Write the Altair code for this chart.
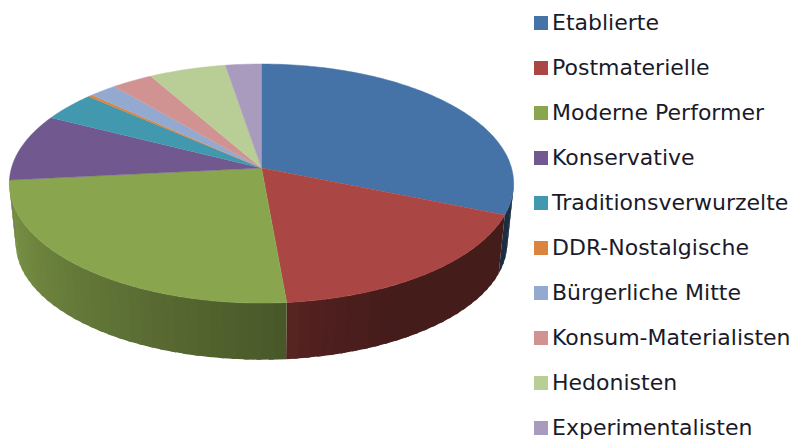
import numpy as np
import pandas as pd
import altair as alt

names = ["Etablierte", "Postmaterielle", "Moderne Performer", "Konservative",
         "Traditionsverwurzelte", "DDR-Nostalgische", "Bürgerliche Mitte",
         "Konsum-Materialisten", "Hedonisten", "Experimentalisten"]
shares = [31.2, 17.4, 24.8, 9.1, 4.0, 0.3, 2.0, 3.0, 5.6, 2.6]
colors = ["#4572A7", "#AA4643", "#89A54E", "#71588F", "#4198AF",
          "#DB843D", "#93A9CF", "#D19392", "#B9CD96", "#A99BBD"]

# Side shading: (angle clockwise from top, brightness)
shade_angles = [97, 150, 170, 175, 264]
shade_levels = [0.40, 0.40, 0.47, 0.53, 0.92]


def rim(theta_deg, top=True):
    t = np.radians(theta_deg)
    X, Z = np.sin(t), np.cos(t)
    k = 0.13
    a, b, y0 = (250.0, 117.5, 168.0) if top else (243.7, 114.6, 228.0)
    w = 1 + k * Z
    return 261.5 + a * X / w, y0 - b * Z / w


def darker(hex_col, f):
    rgb = [int(hex_col[i:i + 2], 16) for i in (1, 3, 5)]
    return "#" + "".join(f"{min(255, int(c * f)):02x}" for c in rgb)


total = sum(shares)
edges = np.concatenate([[0], np.cumsum(shares) / total * 360])

top_rows, side_rows = [], []
for i, name in enumerate(names):
    s, e = edges[i], edges[i + 1]
    steps = max(2, int((e - s) / 1.0) + 1)
    top_rows.append(dict(name=name, ord=0, x=261.5, y=168.0))
    for j, th in enumerate(np.linspace(s, e, steps)):
        x, y = rim(th)
        top_rows.append(dict(name=name, ord=j + 1, x=x, y=y))
    lo, hi = max(s, 97.0), min(e, 265.0)
    if hi > lo:
        n = max(1, int((hi - lo) / 2.5))
        th = np.linspace(lo, hi, n + 1)
        for q in range(n):
            mid = (th[q] + th[q + 1]) / 2
            col = darker(colors[i], float(np.interp(mid, shade_angles, shade_levels)))
            key = f"{i}-{q:03d}"
            end = min(hi, th[q + 1] + 1.0)
            pts = [rim(th[q]), rim(end), rim(end, False), rim(th[q], False)]
            for o, (x, y) in enumerate(pts):
                side_rows.append(dict(key=key, col=col, ord=o, x=x, y=y))

tops = pd.DataFrame(top_rows)
sides = pd.DataFrame(side_rows)

xs = alt.Scale(domain=[8, 796], range=[0, 788], nice=False, zero=False)
ys = alt.Scale(domain=[8, 441], range=[0, 433], nice=False, zero=False)

side_layer = alt.Chart(sides).mark_line(filled=True, strokeWidth=0, interpolate="linear").encode(
    x=alt.X("x:Q", scale=xs, axis=None),
    y=alt.Y("y:Q", scale=ys, axis=None),
    order="ord:Q",
    detail="key:N",
    fill=alt.Fill("col:N", scale=None),
)

top_layer = alt.Chart(tops).mark_line(filled=True, strokeWidth=0.5, interpolate="linear").encode(
    x=alt.X("x:Q", scale=xs, axis=None),
    y=alt.Y("y:Q", scale=ys, axis=None),
    order="ord:Q",
    fill=alt.Fill("name:N", sort=names,
                  scale=alt.Scale(domain=names, range=colors),
                  legend=alt.Legend(orient="none", legendX=522, legendY=4, title=None,
                                    symbolType="square", symbolSize=196,
                                    symbolStrokeWidth=0, symbolOpacity=1,
                                    labelFont="DejaVu Sans", labelFontSize=22,
                                    labelColor="#1a1a2a", labelOffset=0,
                                    rowPadding=23, labelLimit=300, padding=0)),
    stroke=alt.Stroke("name:N", sort=names,
                      scale=alt.Scale(domain=names, range=colors), legend=None),
)

chart = alt.layer(side_layer, top_layer).resolve_scale(fill="independent", stroke="independent").properties(
    width=788, height=433, padding=0, autosize=alt.AutoSizeParams(type="none")
).configure_view(stroke=None)

chart.save("out.html", embed_options={"renderer": "svg", "actions": False})
